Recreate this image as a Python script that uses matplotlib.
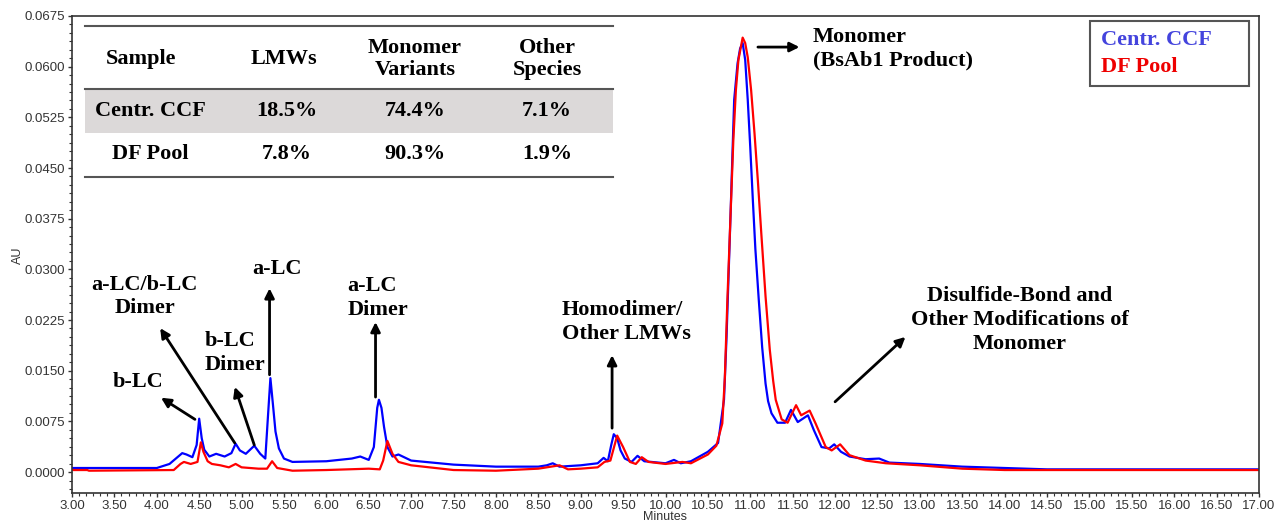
import matplotlib
matplotlib.use("Agg")
import matplotlib.pyplot as plt
from matplotlib.ticker import MultipleLocator, AutoMinorLocator, FormatStrFormatter
from matplotlib.patches import Rectangle
from matplotlib.lines import Line2D

# chromatogram traces (minutes, AU)
ccf_t = [3.00, 3.50, 4.00, 4.15, 4.30, 4.35, 4.42, 4.47, 4.50, 4.53, 4.56, 4.62, 4.70, 4.80,
         4.88, 4.93, 4.98, 5.05, 5.15, 5.22, 5.28, 5.31, 5.34, 5.37, 5.40, 5.44, 5.50, 5.60,
         6.00, 6.30, 6.40, 6.50, 6.56, 6.60, 6.62, 6.65, 6.68, 6.72, 6.78, 6.85, 7.00, 7.50,
         8.00, 8.50, 8.60, 8.67, 8.75, 9.00, 9.20, 9.27, 9.32, 9.36, 9.39, 9.43, 9.47, 9.52,
         9.60, 9.67, 9.75, 10.00, 10.10, 10.18, 10.30, 10.50, 10.62, 10.69, 10.72, 10.76,
         10.81, 10.85, 10.88, 10.91, 10.94, 10.97, 11.00, 11.03, 11.06, 11.10, 11.14, 11.18,
         11.21, 11.25, 11.32, 11.41, 11.48, 11.56, 11.68, 11.75, 11.84, 11.93, 11.99, 12.07,
         12.17, 12.36, 12.52, 12.64, 13.00, 13.50, 14.00, 14.50, 15.00, 17.00]
ccf_au = [0.0006, 0.0006, 0.0006, 0.0012, 0.0028, 0.0026, 0.0022, 0.0040, 0.0079, 0.0050,
          0.0033, 0.0023, 0.0027, 0.0023, 0.0028, 0.0042, 0.0032, 0.0027, 0.0039, 0.0027,
          0.0020, 0.0080, 0.0139, 0.0100, 0.0060, 0.0035, 0.0020, 0.0015, 0.0016, 0.0020,
          0.0023, 0.0018, 0.0037, 0.0095, 0.0107, 0.0095, 0.0067, 0.0037, 0.0023, 0.0026,
          0.0017, 0.0011, 0.0008, 0.0008, 0.0010, 0.0013, 0.0008, 0.0010, 0.0013, 0.0021,
          0.0016, 0.0040, 0.0056, 0.0050, 0.0032, 0.0020, 0.0015, 0.0024, 0.0016, 0.0013,
          0.0018, 0.0013, 0.0016, 0.0030, 0.0043, 0.0107, 0.0200, 0.0353, 0.0551, 0.0605,
          0.0627, 0.0635, 0.0610, 0.0551, 0.0480, 0.0403, 0.0330, 0.0255, 0.0185, 0.0131,
          0.0105, 0.0087, 0.0073, 0.0073, 0.0092, 0.0074, 0.0084, 0.0062, 0.0037, 0.0035,
          0.0041, 0.0030, 0.0023, 0.0019, 0.0020, 0.0014, 0.0012, 0.0008, 0.0006, 0.0004,
          0.0004, 0.0004]

df_t = [3.00, 3.18, 3.20, 4.20, 4.28, 4.32, 4.40, 4.48, 4.52, 4.55, 4.60, 4.65, 4.75, 4.85,
        4.93, 5.00, 5.20, 5.30, 5.36, 5.42, 5.60, 6.00, 6.50, 6.63, 6.67, 6.72, 6.78, 6.85,
        7.00, 7.50, 8.00, 8.50, 8.75, 8.85, 9.00, 9.20, 9.28, 9.35, 9.43, 9.50, 9.58, 9.65,
        9.72, 9.80, 10.00, 10.20, 10.30, 10.50, 10.60, 10.67, 10.70, 10.73, 10.77, 10.80,
        10.83, 10.86, 10.91, 10.94, 10.97, 11.01, 11.05, 11.09, 11.13, 11.18, 11.23, 11.27,
        11.30, 11.37, 11.44, 11.54, 11.60, 11.70, 11.77, 11.89, 11.96, 12.06, 12.17, 12.36,
        12.60, 13.00, 13.50, 14.00, 17.00]
df_au = [0.0003, 0.0003, 0.0002, 0.0003, 0.0012, 0.0015, 0.0012, 0.0015, 0.0044, 0.0030,
         0.0016, 0.0012, 0.0010, 0.0007, 0.0012, 0.0007, 0.0005, 0.0005, 0.0016, 0.0006,
         0.0002, 0.0003, 0.0005, 0.0004, 0.0017, 0.0046, 0.0027, 0.0015, 0.0010, 0.0003,
         0.0002, 0.0005, 0.0010, 0.0004, 0.0005, 0.0007, 0.0015, 0.0017, 0.0054, 0.0037,
         0.0015, 0.0012, 0.0022, 0.0015, 0.0012, 0.0015, 0.0013, 0.0026, 0.0039, 0.0072,
         0.0140, 0.0255, 0.0390, 0.0491, 0.0565, 0.0610, 0.0643, 0.0635, 0.0614, 0.0565,
         0.0501, 0.0430, 0.0353, 0.0260, 0.0181, 0.0135, 0.0107, 0.0078, 0.0073, 0.0099,
         0.0084, 0.0091, 0.0072, 0.0037, 0.0032, 0.0041, 0.0025, 0.0017, 0.0013, 0.0010,
         0.0005, 0.0003, 0.0003]

# composition table
table_cols = ["Sample", "LMWs", "Monomer\nVariants", "Other\nSpecies"]
table_rows = [["Centr. CCF", "18.5%", "74.4%", "7.1%"],
              ["DF Pool", "7.8%", "90.3%", "1.9%"]]

W, H = 1276, 523
fig = plt.figure(figsize=(W / 100, H / 100), dpi=100)
ax = fig.add_axes([72 / W, 1 - 493 / H, (1259 - 72) / W, (493 - 16) / H])

ax.plot(ccf_t, ccf_au, color="#0000ff", lw=1.6)
ax.plot(df_t, df_au, color="#ff0000", lw=1.6)

ax.set_xlim(3.0, 17.0)
ax.set_ylim(-0.0031, 0.0675)
ax.xaxis.set_major_locator(MultipleLocator(0.5))
ax.xaxis.set_minor_locator(AutoMinorLocator(6))
ax.yaxis.set_major_locator(MultipleLocator(0.0075))
ax.yaxis.set_minor_locator(AutoMinorLocator(6))
ax.xaxis.set_major_formatter(FormatStrFormatter("%.2f"))
ax.yaxis.set_major_formatter(FormatStrFormatter("%.4f"))
ax.tick_params(which="major", length=3, width=1, pad=2, labelsize=9.5,
               labelcolor="#333333", color="#333333")
ax.tick_params(which="minor", length=2, width=0.8, color="#333333")
for lab in ax.get_xticklabels() + ax.get_yticklabels():
    lab.set_family("Liberation Sans")
for s in ax.spines.values():
    s.set_color("#333333")
    s.set_linewidth(1.2)

fig.text(18 / W, 1 - 255 / H, "AU", rotation=90, ha="center", va="center",
         fontsize=9, family="Liberation Sans", color="#333333")
fig.text(665 / W, 1 - 517 / H, "Minutes", ha="center", va="center",
         fontsize=9, family="Liberation Sans", color="#333333")

serif = dict(family="Liberation Serif", fontweight="bold", fontsize=16)
arrow = dict(arrowstyle="-|>", color="black", lw=2, mutation_scale=14, shrinkA=0, shrinkB=0)

# peak labels
ax.annotate("", xy=(4.05, 0.0110), xytext=(4.45, 0.0078), arrowprops=arrow)
ax.text(3.78, 0.0133, "b-LC", ha="center", va="center", **serif)
ax.annotate("", xy=(4.04, 0.0213), xytext=(4.92, 0.0043), arrowprops=arrow)
ax.text(3.86, 0.0260, "a-LC/b-LC\nDimer", ha="center", va="center", linespacing=1.25, **serif)
ax.annotate("", xy=(4.92, 0.0126), xytext=(5.15, 0.0040), arrowprops=arrow)
ax.text(4.57, 0.0176, "b-LC\nDimer", ha="left", va="center", linespacing=1.25, **serif)
ax.annotate("", xy=(5.33, 0.0272), xytext=(5.33, 0.0144), arrowprops=arrow)
ax.text(5.42, 0.0300, "a-LC", ha="center", va="center", **serif)
ax.annotate("", xy=(6.58, 0.0222), xytext=(6.58, 0.0111), arrowprops=arrow)
ax.text(6.25, 0.0258, "a-LC\nDimer", ha="left", va="center", linespacing=1.25, **serif)
ax.annotate("", xy=(9.37, 0.0173), xytext=(9.37, 0.0065), arrowprops=arrow)
ax.text(8.78, 0.0222, "Homodimer/\nOther LMWs", ha="left", va="center", linespacing=1.25, **serif)
ax.annotate("", xy=(11.58, 0.0629), xytext=(11.09, 0.0629), arrowprops=arrow)
ax.text(11.74, 0.0626, "Monomer\n(BsAb1 Product)", ha="left", va="center", linespacing=1.25, **serif)
ax.annotate("", xy=(12.83, 0.0200), xytext=(12.0, 0.0104), arrowprops=arrow)
ax.text(14.18, 0.0225, "Disulfide-Bond and\nOther Modifications of\nMonomer", ha="center",
        va="center", linespacing=1.25, **serif)

# legend box
def fx(x):
    return x / W

def fy(y):
    return 1 - y / H

fig.patches.append(Rectangle((fx(1090), fy(86)), fx(1249) - fx(1090), fy(21) - fy(86),
                             transform=fig.transFigure, fill=False, edgecolor="#555555", lw=1.5))
fig.text(fx(1101), fy(40), "Centr. CCF", color="#4444dd", ha="left", va="center", **serif)
fig.text(fx(1101), fy(67), "DF Pool", color="#ee0000", ha="left", va="center", **serif)

# table
fig.patches.append(Rectangle((fx(85), fy(133)), fx(613) - fx(85), fy(89) - fy(133),
                             transform=fig.transFigure, facecolor="#dcd9d9", edgecolor="none"))
for yl in [26, 89, 177]:
    fig.lines.append(Line2D([fx(85), fx(613)], [fy(yl), fy(yl)], transform=fig.transFigure,
                            color="#555555", lw=1.5))
head_x = [141, 284, 415, 547]
for cx, name in zip(head_x, table_cols):
    fig.text(fx(cx), fy(59), name, ha="center", va="center", linespacing=1.1, **serif)
cell_x = [150, 287, 415, 547]
for ry, row in zip([111, 154], table_rows):
    for cx, val in zip(cell_x, row):
        fig.text(fx(cx), fy(ry), val, ha="center", va="center", **serif)

fig.savefig("out.png", dpi=100)
